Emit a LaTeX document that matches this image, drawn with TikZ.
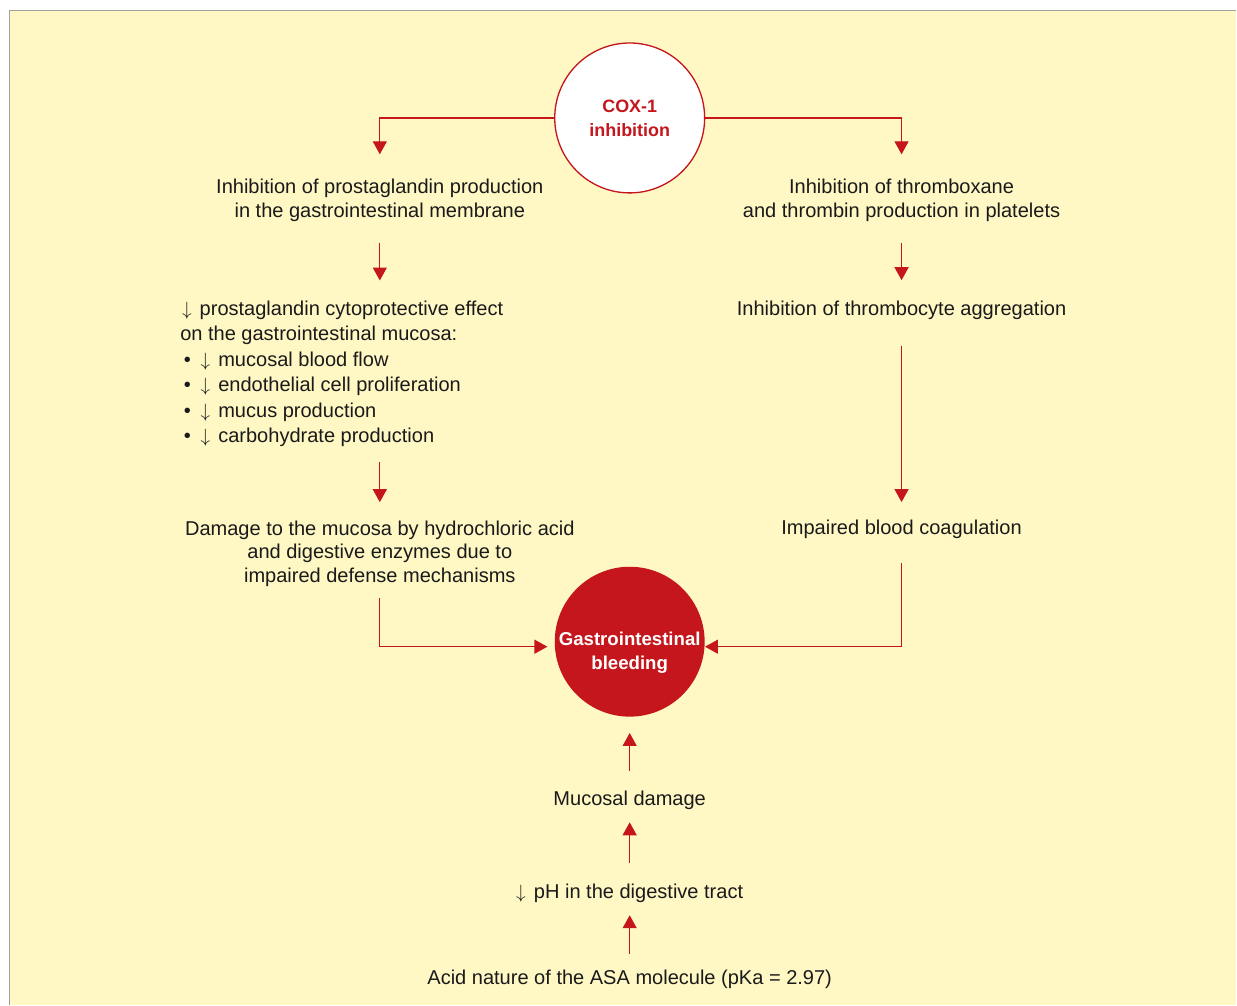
\documentclass[tikz,border=0pt]{standalone}
\usepackage{fontspec}
\setmainfont{Liberation Sans}
\usepackage{xcolor}
\usepackage{tikz}
\usetikzlibrary{calc,arrows.meta}

\definecolor{bgyellow}{RGB}{255,248,196}
\definecolor{coxred}{RGB}{196,22,28}
\definecolor{framegray}{RGB}{160,160,160}
\definecolor{txtgray}{RGB}{26,26,26}

\newcommand{\dn}{$\downarrow$\hspace{4.6pt}}
\newcommand{\itm}{\hspace*{2pt}•\hspace{5.6pt}\dn}

\begin{document}
\begin{tikzpicture}[x=0.02cm, y=-0.02cm,
  txt/.style={font=\fontsize{11.4}{13.6}\selectfont, text=txtgray, inner sep=0pt, align=center},
  circ/.style={circle, minimum size=3cm, inner sep=0pt, align=center,
               font=\bfseries\fontsize{10.2}{13.6}\selectfont},
  arr/.style={coxred, line width=0.75pt, -{Triangle[length=2.6mm, width=2.8mm]}}
  ]
  % 背景と枠
  \fill[white] (0,0) rectangle (1237,1005);
  \fill[bgyellow] (10,11) rectangle (1237,1005);
  \draw[framegray, line width=0.7pt] (9.5,1005) -- (9.5,10.5) -- (1237,10.5);

  % 円
  \node[circ, draw=coxred, fill=white, line width=0.75pt, text=coxred] (cox) at (630,118) {COX-1\\inhibition};
  \node[circ, fill=coxred] (bleed) at (630,642) {};
  \node[txt, text=white, font=\bfseries\fontsize{10.6}{13.6}\selectfont] (bleedlbl) at (630,653) {Gastrointestinal\\bleeding};

  % 左の列
  \node[txt] (inhL) at (380,200) {Inhibition of prostaglandin production\\in the gastrointestinal membrane};
  \node[txt, align=left, anchor=west, font=\fontsize{11.4}{14.5}\selectfont] (cyto) at (180,374)
    {\hspace*{1pt}\dn prostaglandin cytoprotective effect\\
     on the gastrointestinal mucosa:\\
     \itm mucosal blood flow\\
     \itm endothelial cell proliferation\\
     \itm mucus production\\
     \itm carbohydrate production};
  \node[txt] (damage) at (380,554) {Damage to the mucosa by hydrochloric acid\\and digestive enzymes due to\\impaired defense mechanisms};

  % 右の列
  \node[txt] (inhR) at (902,200) {Inhibition of thromboxane\\and thrombin production in platelets};
  \node[txt] (thromb) at (902,310) {Inhibition of thrombocyte aggregation};
  \node[txt] (coag) at (902,530) {Impaired blood coagulation};

  % 下の列
  \node[txt] (mucosal) at (630,801) {Mucosal damage};
  \node[txt] (ph) at (630,894) {\dn pH in the digestive tract};
  \node[txt] (acid) at (630,980) {Acid nature of the ASA molecule (pKa = 2.97)};

  % 矢印 (上から下へ)
  \draw[arr, shorten >=4.8mm] (cox.west) -| (inhL.north);
  \draw[arr, shorten >=4.8mm] (cox.east) -| (inhR.north);
  \draw[arr, shorten <=4.2mm, shorten >=4mm] (inhL.south) -- (inhL.south |- cyto.north);
  \draw[arr, shorten <=4.2mm, shorten >=4mm] (inhR.south) -- (thromb.north);
  \draw[arr, shorten <=3mm, shorten >=3.6mm] (cyto.south -| inhL.south) -- (damage.north);
  \draw[arr, shorten <=5.2mm, shorten >=3.6mm] (thromb.south) -- (coag.north);
  \draw[arr, shorten <=2.2mm, shorten >=1.4mm] (damage.south) |- ($(bleed.west)+(0,5)$);
  \draw[arr, shorten <=4.8mm] (coag.south) |- ($(bleed.east)+(0,5)$);

  % 矢印 (下から上へ)
  \draw[arr, shorten <=3.2mm, shorten >=2.4mm] (acid.north) -- (ph.south);
  \draw[arr, shorten <=4.2mm, shorten >=2.4mm] (ph.north) -- (mucosal.south);
  \draw[arr, shorten <=4mm, shorten >=3.2mm] (mucosal.north) -- (bleed.south);
\end{tikzpicture}
\end{document}
